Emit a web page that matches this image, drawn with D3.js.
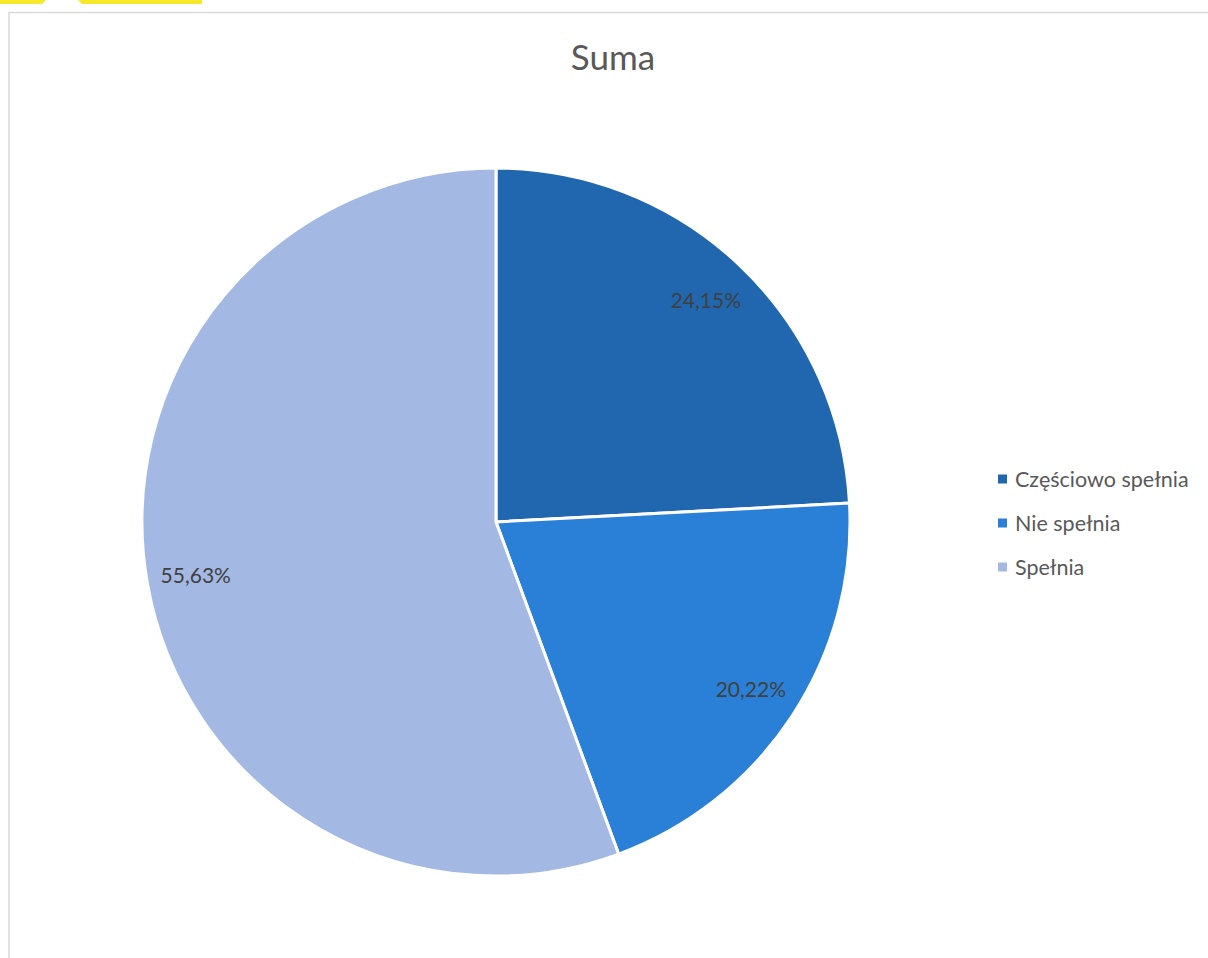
<!DOCTYPE html>
<html>
<head>
<meta charset="utf-8">
<script src="https://cdn.jsdelivr.net/npm/d3@7"></script>
<style>
  html, body { margin: 0; padding: 0; background: #fff; }
  svg { display: block; font-family: "Lato", "Open Sans", sans-serif; }
</style>
</head>
<body>
<svg id="chart" width="1208" height="958"></svg>
<script>
const title = "Suma";
const categories = ["Częściowo spełnia", "Nie spełnia", "Spełnia"];
const values = [24.15, 20.22, 55.63];
const colors = ["#2167B0", "#2A80D7", "#A3B9E3"];

const svg = d3.select("#chart");

// decorative yellow shapes top-left
svg.append("path").attr("d", "M0,0 L46,0 L42,4 L0,4 Z").attr("fill", "#F5E92A");
svg.append("path").attr("d", "M78,0 L202,0 L202,4 L82,4 Z").attr("fill", "#F5E92A");

// chart area border
svg.append("path").attr("d", "M9,958 L9,12.5 L1208,12.5")
  .attr("fill", "none").attr("stroke", "#D9D9D9").attr("stroke-width", 1.5);

svg.append("text").attr("x", 613).attr("y", 70).attr("text-anchor", "middle")
  .attr("font-size", 35).attr("fill", "#595959").text(title);

const cx = 496, cy = 522, R = 354;
const g = svg.append("g").attr("transform", `translate(${cx},${cy})`);

const pie = d3.pie().sort(null).value(d => d.v);
const data = pie(categories.map((c, i) => ({ c, v: values[i], color: colors[i] })));
const arc = d3.arc().innerRadius(0).outerRadius(R);
const labelArc = d3.arc().innerRadius(305).outerRadius(305);

g.selectAll("path.slice").data(data).join("path")
  .attr("class", "slice")
  .attr("d", arc)
  .attr("fill", d => d.data.color)
  .attr("stroke", "#fff").attr("stroke-width", 3).attr("stroke-linejoin", "round");

const fmt = v => v.toFixed(2).replace(".", ",") + "%";
g.selectAll("text.lbl").data(data).join("text")
  .attr("class", "lbl")
  .attr("transform", d => `translate(${labelArc.centroid(d)})`)
  .attr("text-anchor", "middle").attr("dy", "0.35em")
  .attr("font-size", 21).attr("fill", "#404040")
  .text(d => fmt(d.data.v));

const legend = svg.append("g");
const ly = d3.scalePoint().domain(categories).range([479, 567]);
categories.forEach((c, i) => {
  legend.append("rect").attr("x", 998).attr("y", ly(c) - 4.5).attr("width", 9).attr("height", 9)
    .attr("fill", colors[i]);
  legend.append("text").attr("x", 1015).attr("y", ly(c)).attr("dy", "0.35em")
    .attr("font-size", 21.5).attr("fill", "#595959").text(c);
});
</script>
</body>
</html>
